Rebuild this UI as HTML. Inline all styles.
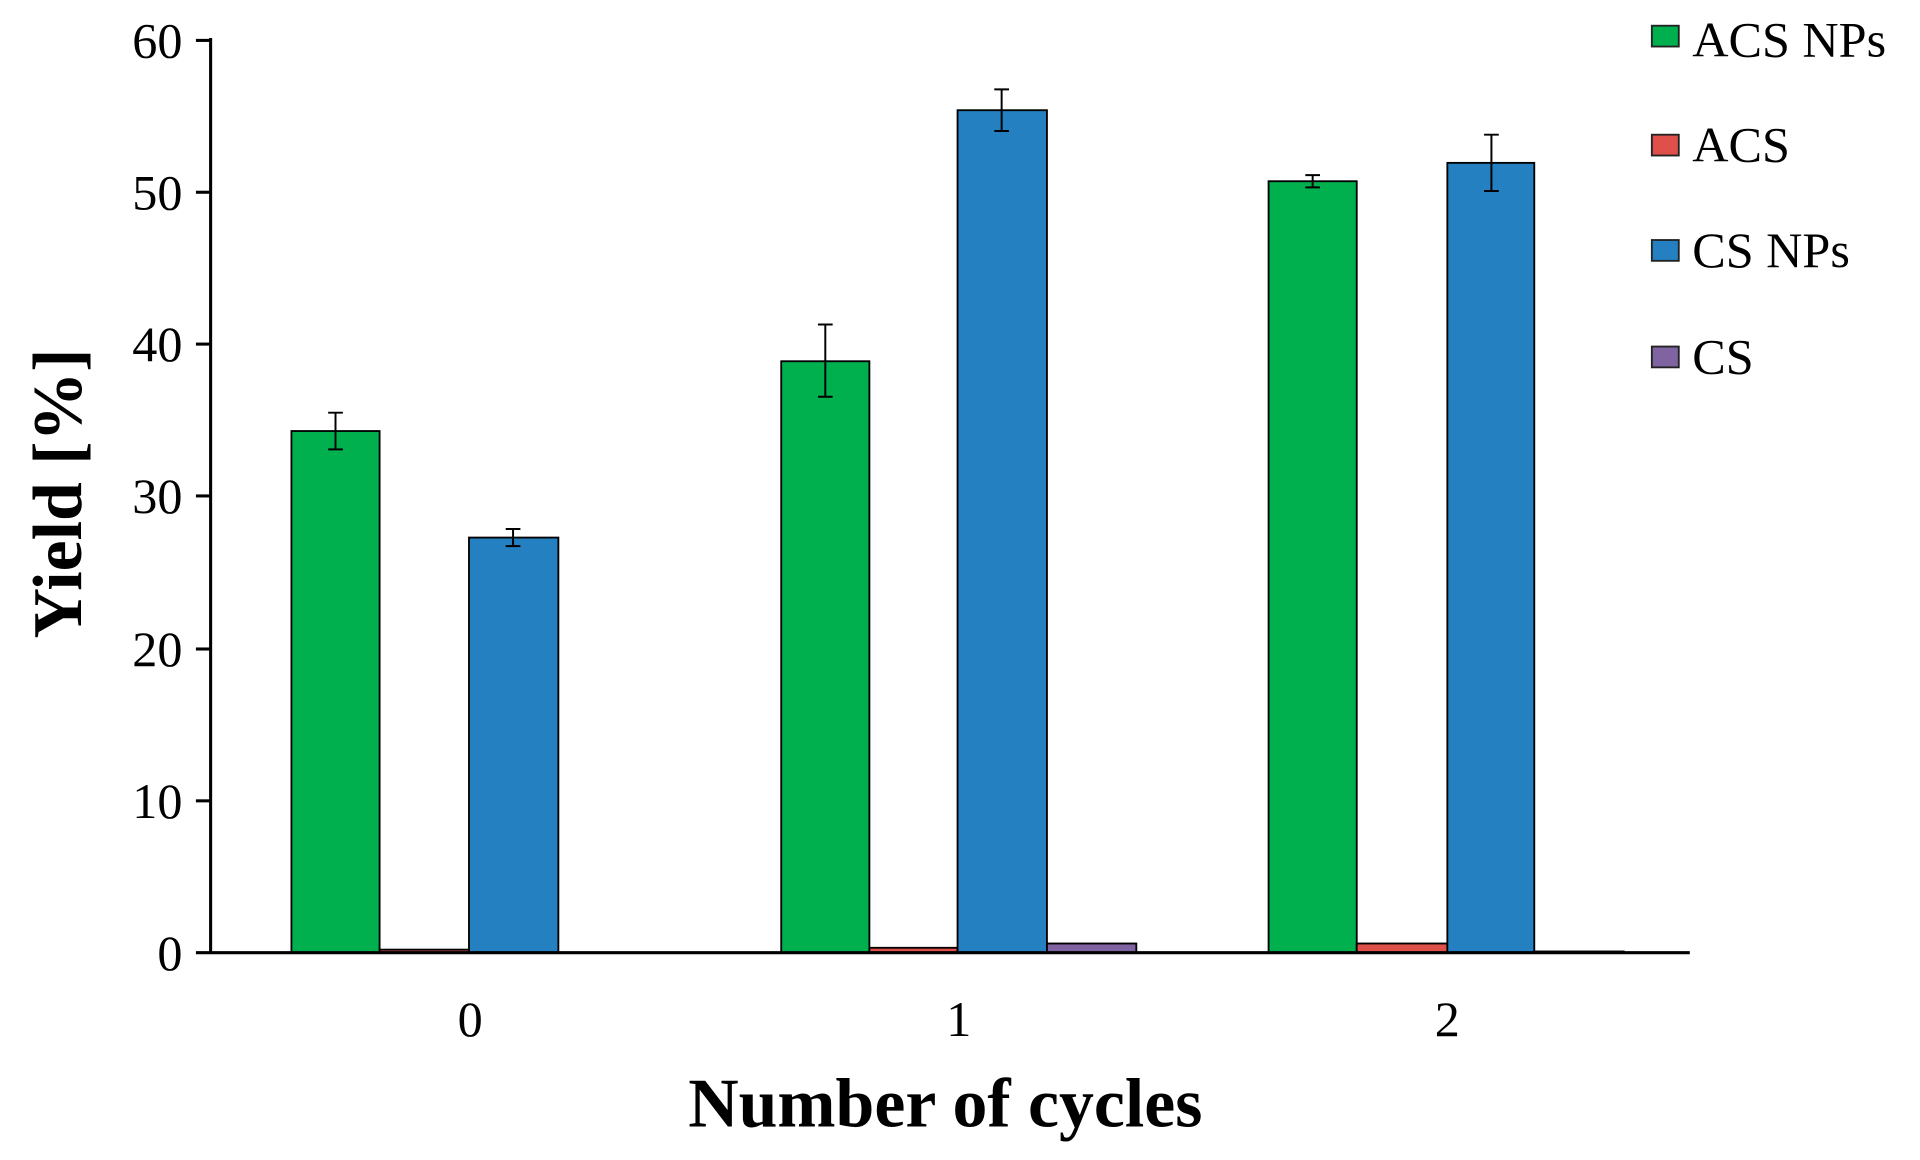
<!DOCTYPE html>
<html><head><meta charset="utf-8"><style>
html,body{margin:0;padding:0;background:#fff;}
svg{display:block;}
text{font-family:"Liberation Serif",serif;fill:#000;}
</style></head><body>
<svg width="1920" height="1160" viewBox="0 0 1568 947.3" preserveAspectRatio="none" xmlns="http://www.w3.org/2000/svg">
<g stroke="#000" stroke-width="1.5">
<rect x="238" y="352" width="72" height="426" fill="#00b04f"/>
<rect x="310" y="775.5" width="73" height="2.5" fill="#e0504a"/>
<rect x="383" y="439" width="73" height="339" fill="#2580c2"/>
<rect x="638" y="295" width="72" height="483" fill="#00b04f"/>
<rect x="710" y="774" width="72" height="4" fill="#e0504a"/>
<rect x="782" y="90" width="73" height="688" fill="#2580c2"/>
<rect x="855" y="770.5" width="73" height="7.5" fill="#8064a2"/>
<rect x="1036" y="148" width="72" height="630" fill="#00b04f"/>
<rect x="1108" y="770.5" width="74" height="7.5" fill="#e0504a"/>
<rect x="1182" y="133" width="71" height="645" fill="#2580c2"/>
<rect x="1253" y="777" width="73" height="1" fill="#8064a2"/>
</g>
<g stroke="#000" stroke-width="1.6" fill="none">
<path d="M274 337V367M268 337H280M268 367H280"/>
<path d="M419 432V446M413 432H425M413 446H425"/>
<path d="M674 265V324M668 265H680M668 324H680"/>
<path d="M818 73V107M812 73H824M812 107H824"/>
<path d="M1072 143V153M1066 143H1078M1066 153H1078"/>
<path d="M1218 110V156M1212 110H1224M1212 156H1224"/>
</g>
<g stroke="#000" stroke-width="2.5">
<line x1="172" y1="31" x2="172" y2="779"/>
<line x1="160" y1="778" x2="1380" y2="778"/>
<line x1="160" y1="33" x2="172" y2="33"/>
<line x1="160" y1="157" x2="172" y2="157"/>
<line x1="160" y1="281" x2="172" y2="281"/>
<line x1="160" y1="405" x2="172" y2="405"/>
<line x1="160" y1="530" x2="172" y2="530"/>
<line x1="160" y1="654" x2="172" y2="654"/>
</g>
<g font-size="41" text-anchor="end">
<text x="149" y="47">60</text>
<text x="149" y="171">50</text>
<text x="149" y="295">40</text>
<text x="149" y="419">30</text>
<text x="149" y="544">20</text>
<text x="149" y="668">10</text>
<text x="149" y="792">0</text>
</g>
<g font-size="41" text-anchor="middle">
<text x="384" y="846">0</text>
<text x="783" y="846">1</text>
<text x="1182" y="846">2</text>
</g>
<text x="772" y="920" font-size="57" font-weight="bold" text-anchor="middle">Number of cycles</text>
<text transform="translate(66,403) rotate(-90)" font-size="57" font-weight="bold" text-anchor="middle">Yield [%]</text>
<g stroke="#222" stroke-width="1.5">
<rect x="1349" y="21" width="22" height="17" fill="#00b04f"/>
<rect x="1349" y="110" width="22" height="17" fill="#e0504a"/>
<rect x="1349" y="196" width="22" height="17" fill="#2580c2"/>
<rect x="1349" y="283" width="22" height="17" fill="#8064a2"/>
</g>
<g font-size="41">
<text x="1382" y="46">ACS NPs</text>
<text x="1382" y="132">ACS</text>
<text x="1382" y="218">CS NPs</text>
<text x="1382" y="305">CS</text>
</g>
</svg>
</body></html>
